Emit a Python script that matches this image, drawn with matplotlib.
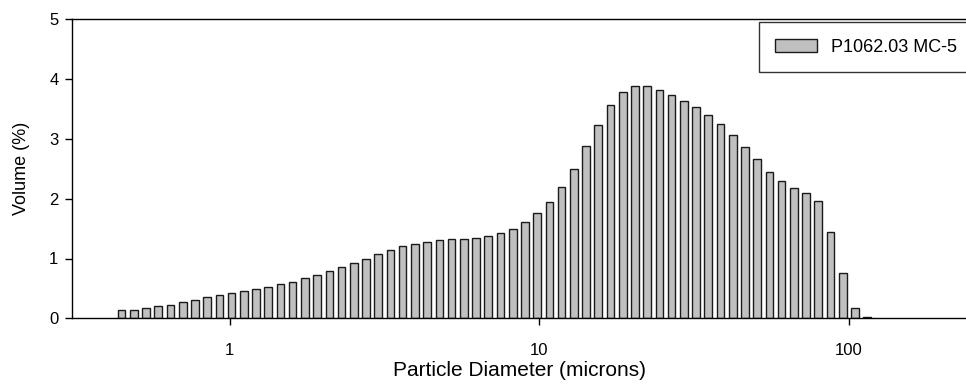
import matplotlib
matplotlib.use("Agg")
import matplotlib.pyplot as plt
import numpy as np

plt.rcParams['font.family'] = ['Liberation Sans', 'DejaVu Sans']

# channel centre diameters (microns)
diameter = [0.448, 0.491, 0.537, 0.588, 0.644, 0.706, 0.773, 0.846, 0.927, 1.015,
            1.112, 1.218, 1.334, 1.460, 1.599, 1.752, 1.918, 2.101, 2.301, 2.519,
            2.759, 3.021, 3.309, 3.623, 3.968, 4.345, 4.759, 5.212, 5.707, 6.251,
            6.845, 7.497, 8.210, 8.991, 9.847, 10.78, 11.81, 12.93, 14.16, 15.51,
            16.99, 18.60, 20.37, 22.31, 24.43, 26.76, 29.31, 32.09, 35.15, 38.49,
            42.15, 46.16, 50.56, 55.37, 60.63, 66.40, 72.71, 79.63, 87.21, 95.52,
            104.6, 114.6]

# volume percent per channel
volume = [0.14, 0.145, 0.17, 0.21, 0.23, 0.28, 0.31, 0.36, 0.39, 0.43,
          0.46, 0.49, 0.525, 0.57, 0.61, 0.67, 0.72, 0.79, 0.85, 0.93,
          1.00, 1.07, 1.14, 1.21, 1.25, 1.28, 1.31, 1.32, 1.33, 1.35,
          1.38, 1.42, 1.50, 1.61, 1.76, 1.95, 2.20, 2.50, 2.88, 3.24,
          3.57, 3.78, 3.88, 3.88, 3.82, 3.73, 3.63, 3.53, 3.40, 3.25,
          3.06, 2.86, 2.66, 2.45, 2.29, 2.18, 2.10, 1.96, 1.44, 0.75,
          0.18, 0.02]

sample_name = 'P1062.03 MC-5'

d = np.array(diameter)
step = np.log10(d[1] / d[0])
frac = 0.62  # bar width as fraction of channel spacing (log)
left = d * 10 ** (-0.5 * frac * step)
right = d * 10 ** (0.5 * frac * step)

fig = plt.figure(figsize=(9.66, 3.85), dpi=100)
ax = fig.add_axes([72.3 / 966, 66.7 / 385, (966 - 72.3) / 966, 299 / 385])

ax.bar(left, volume, width=right - left, align='edge', color='#c0c0c0',
       edgecolor='#1a1a1a', linewidth=1.0, label=sample_name)

ax.set_xscale('log')
ax.set_xlim(10 ** -0.5077, 10 ** 2.378)
ax.set_ylim(0, 5)
ax.set_xticks([1, 10, 100])
ax.set_xticklabels(['1', '10', '100'])
ax.xaxis.set_minor_locator(matplotlib.ticker.NullLocator())
ax.set_yticks([0, 1, 2, 3, 4, 5])

ax.spines['right'].set_visible(False)
for s in ['left', 'bottom', 'top']:
    ax.spines[s].set_linewidth(1.0)
ax.tick_params(direction='out', length=5, width=1, labelsize=12)
ax.tick_params(axis='x', pad=13)
ax.tick_params(axis='y', pad=5)

ax.set_xlabel('Particle Diameter (microns)', fontsize=15, labelpad=2)
ax.set_ylabel('Volume (%)', fontsize=13, labelpad=14)

leg = ax.legend(loc='upper left', bbox_to_anchor=(759 / 966, 1 - 22.3 / 385),
                bbox_transform=fig.transFigure, fontsize=13, frameon=True,
                fancybox=False, handlelength=2.3, handleheight=0.75,
                borderpad=0.9, borderaxespad=0, handletextpad=0.8)
leg.get_frame().set_edgecolor('black')
leg.get_frame().set_linewidth(1.0)

fig.savefig('out.png', dpi=100)
